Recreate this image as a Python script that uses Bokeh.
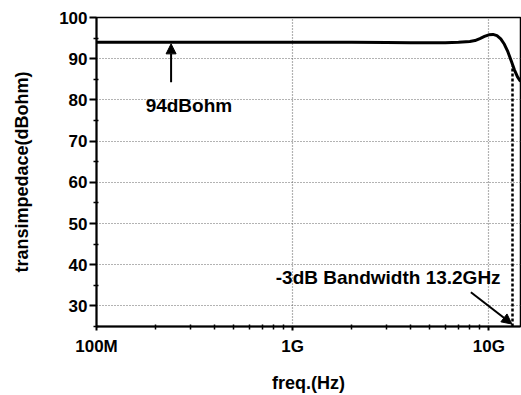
from bokeh.plotting import figure
from bokeh.models import Range1d, FixedTicker, Arrow, NormalHead, ColumnDataSource, Grid
from bokeh.core.properties import value
from bokeh.embed import file_html
from bokeh.resources import INLINE

# ---- data ----
freq_hz = [1e8, 2e8, 5e8, 1e9, 2e9, 3e9, 4e9, 5e9, 6e9, 7e9, 8e9, 8.5e9, 9e9, 9.5e9,
           1.0e10, 1.05e10, 1.1e10, 1.15e10, 1.2e10, 1.25e10, 1.3e10, 1.35e10, 1.4e10, 1.45e10]
gain_db = [94.0, 94.0, 94.0, 94.0, 94.0, 93.95, 93.9, 93.9, 93.9, 94.0, 94.2, 94.4, 94.9, 95.4,
           95.8, 95.9, 95.6, 94.8, 93.5, 91.7, 89.5, 87.3, 85.6, 84.5]

x_tick_values = [1e8, 1e9, 1e10]
x_tick_labels = ["100M", "1G", "10G"]
y_tick_values = [30, 40, 50, 60, 70, 80, 90, 100]
y_minor_values = [25, 35, 45, 55, 65, 75, 85, 95]

bw_freq = 1.32e10          # -3dB bandwidth marker
bw_top = 88.3
flat_label = "94dBohm"
flat_arrow_x = 2.4e8
flat_arrow_y = [84.3, 93.6]
flat_text_pos = (1.78e8, 78.7)
bw_label = "-3dB Bandwidth 13.2GHz"
bw_text_pos = (8.2e8, 37.0)
bw_arrow_start = (8.1e9, 33.3)
bw_arrow_end = (1.31e10, 25.6)

FONT = "Liberation Sans"

p = figure(width=521, height=395, x_axis_type="log",
           x_range=Range1d(1e8, 1.45e10), y_range=Range1d(25, 100),
           output_backend="svg", toolbar_location=None,
           min_border_left=96, min_border_right=1, min_border_top=17, min_border_bottom=64)

p.background_fill_color = "white"
p.border_fill_color = "white"
p.outline_line_color = "black"
p.outline_line_width = 1.5

x_minor = [m * 10 ** e for e in (8, 9, 10) for m in range(2, 10)]
p.xaxis.ticker = FixedTicker(ticks=x_tick_values, minor_ticks=x_minor)
p.xaxis.major_label_overrides = {v: s for v, s in zip(x_tick_values, x_tick_labels)}
p.yaxis.ticker = FixedTicker(ticks=y_tick_values, minor_ticks=y_minor_values)

# replace default grids with explicit dotted ones
p.xgrid.visible = False
p.ygrid.visible = False
p.add_layout(Grid(dimension=0, ticker=FixedTicker(ticks=x_tick_values),
                  grid_line_color="#666666", grid_line_dash="1 2", grid_line_width=1.2))
p.add_layout(Grid(dimension=1, ticker=FixedTicker(ticks=y_tick_values),
                  grid_line_color="#666666", grid_line_dash="1 2", grid_line_width=1.2))

for ax in (p.xaxis, p.yaxis):
    ax.axis_line_color = "black"
    ax.axis_line_width = 2
    ax.major_tick_line_color = "black"
    ax.major_tick_line_width = 2
    ax.minor_tick_line_color = "black"
    ax.minor_tick_line_width = 1.5
    ax.major_tick_in = 0
    ax.minor_tick_in = 2
    ax.minor_tick_out = 3
    ax.major_label_text_font = FONT
    ax.major_label_text_font_style = "bold"
    ax.major_label_text_font_size = "17px"
    ax.major_label_text_color = "black"
    ax.axis_label_text_font = FONT
    ax.axis_label_text_font_style = "bold"
    ax.axis_label_text_font_size = "18px"
    ax.axis_label_text_color = "black"

p.yaxis.major_tick_out = 7
p.yaxis.major_label_standoff = 2
p.yaxis.axis_label_standoff = 24
p.xaxis.major_tick_out = 4
p.xaxis.major_label_standoff = 6
p.xaxis.axis_label_standoff = 14

p.xaxis.axis_label = "freq.(Hz)"
p.yaxis.axis_label = "transimpedace(dBohm)"

src = ColumnDataSource(dict(f=freq_hz, g=gain_db))
p.line("f", "g", source=src, line_color="black", line_width=3)

# -3dB dashed marker
p.segment(x0=[bw_freq], y0=[25], x1=[bw_freq], y1=[bw_top],
          line_color="black", line_width=2.5, line_dash="3 2")

# arrows
p.add_layout(Arrow(end=NormalHead(size=10, fill_color="black", line_color="black"),
                   x_start=flat_arrow_x, y_start=flat_arrow_y[0],
                   x_end=flat_arrow_x, y_end=flat_arrow_y[1],
                   line_color="black", line_width=2))
p.add_layout(Arrow(end=NormalHead(size=10, fill_color="black", line_color="black"),
                   x_start=bw_arrow_start[0], y_start=bw_arrow_start[1],
                   x_end=bw_arrow_end[0], y_end=bw_arrow_end[1],
                   line_color="black", line_width=2))

p.text(x=[flat_text_pos[0]], y=[flat_text_pos[1]], text=[flat_label],
       text_font=value(FONT), text_font_style="bold", text_font_size="19px",
       text_align="left", text_baseline="middle", text_color="black")
p.text(x=[bw_text_pos[0]], y=[bw_text_pos[1]], text=[bw_label],
       text_font=value(FONT), text_font_style="bold", text_font_size="19px",
       text_align="left", text_baseline="middle", text_color="black")

open("out.html", "w").write(file_html(p, INLINE))
